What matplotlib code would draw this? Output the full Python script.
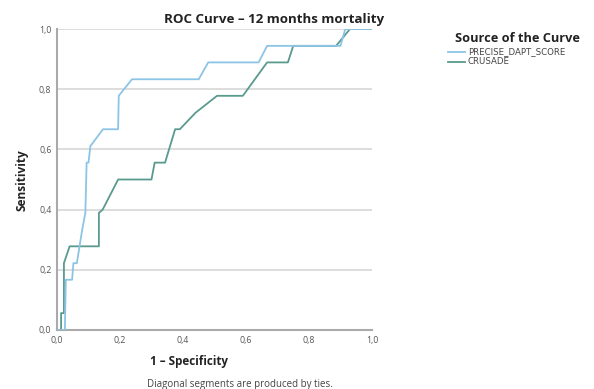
import matplotlib
matplotlib.use("Agg")
import matplotlib.pyplot as plt

# ROC coordinates (1 - specificity, sensitivity) for each score
precise_fpr = [0.0, 0.025, 0.028, 0.048, 0.052, 0.063, 0.080, 0.090, 0.094, 0.100, 0.106,
               0.146, 0.194, 0.196, 0.238, 0.450, 0.480, 0.640, 0.667, 0.900, 0.915, 1.0]
precise_tpr = [0.0, 0.0, 0.167, 0.167, 0.222, 0.222, 0.333, 0.389, 0.556, 0.556, 0.611,
               0.667, 0.667, 0.778, 0.833, 0.833, 0.889, 0.889, 0.944, 0.944, 1.0, 1.0]

crusade_fpr = [0.0, 0.013, 0.013, 0.022, 0.022, 0.040, 0.133, 0.133, 0.145, 0.194, 0.300,
               0.310, 0.343, 0.375, 0.390, 0.440, 0.508, 0.590, 0.667, 0.733, 0.750,
               0.886, 0.930, 1.0]
crusade_tpr = [0.0, 0.0, 0.056, 0.056, 0.222, 0.278, 0.278, 0.389, 0.400, 0.500, 0.500,
               0.556, 0.556, 0.667, 0.667, 0.722, 0.778, 0.778, 0.889, 0.889, 0.944,
               0.944, 1.0, 1.0]

series_names = ["PRECISE_DAPT_SCORE", "CRUSADE"]
series_colors = ["#8cc4e6", "#5a9a8e"]
tick_values = [0.0, 0.2, 0.4, 0.6, 0.8, 1.0]
tick_labels = ["0,0", "0,2", "0,4", "0,6", "0,8", "1,0"]

plt.rcParams["font.family"] = ["Open Sans", "DejaVu Sans"]

W, H = 594, 389
fig = plt.figure(figsize=(W / 100, H / 100), dpi=100)
ax = fig.add_axes([57 / W, 1 - 330 / H, (372 - 57) / W, (330 - 29) / H])

ax.set_xlim(0, 1)
ax.set_ylim(0, 1)

for v in tick_values[1:]:
    ax.axhline(v, color="#dddddd", lw=1.4, zorder=0)

ax.plot(precise_fpr, precise_tpr, color=series_colors[0], lw=1.3, zorder=3)
ax.plot(crusade_fpr, crusade_tpr, color=series_colors[1], lw=1.3, zorder=2)

for s in ["top", "right"]:
    ax.spines[s].set_visible(False)
for s in ["left", "bottom"]:
    ax.spines[s].set_color("#aaaaaa")
    ax.spines[s].set_linewidth(1.5)

ax.set_xticks(tick_values)
ax.set_xticklabels(tick_labels)
ax.set_yticks(tick_values)
ax.set_yticklabels(tick_labels)
ax.tick_params(length=0, labelsize=6.3, labelcolor="#555555", pad=4)

fig.text(274 / W, 1 - 19 / H, "ROC Curve \u2013 12 months mortality", ha="center",
         va="center", fontsize=9.6, fontweight="bold", color="#222222")
fig.text(22 / W, 1 - 180 / H, "Sensitivity", rotation=90, ha="center", va="center",
         fontsize=8.6, fontweight="bold", color="#222222")
fig.text(189 / W, 1 - 362 / H, "1 \u2013 Specificity", ha="center", va="center",
         fontsize=8.4, fontweight="bold", color="#222222")
fig.text(240 / W, 1 - 384 / H, "Diagonal segments are produced by ties.", ha="center",
         va="center", fontsize=7, color="#444444")

# legend block
fig.text(517 / W, 1 - 39 / H, "Source of the Curve", ha="center", va="center",
         fontsize=9.2, fontweight="bold", color="#222222")
for i, (name, col) in enumerate(zip(series_names, series_colors)):
    yy = 1 - (52 + 9.5 * i) / H
    fig.add_artist(plt.Line2D([448 / W, 465 / W], [yy, yy], color=col, lw=1.3,
                              transform=fig.transFigure))
    fig.text(468 / W, yy, name, ha="left", va="center", fontsize=6.2,
             family="DejaVu Sans", color="#444444")

fig.savefig("out.png", dpi=100)
